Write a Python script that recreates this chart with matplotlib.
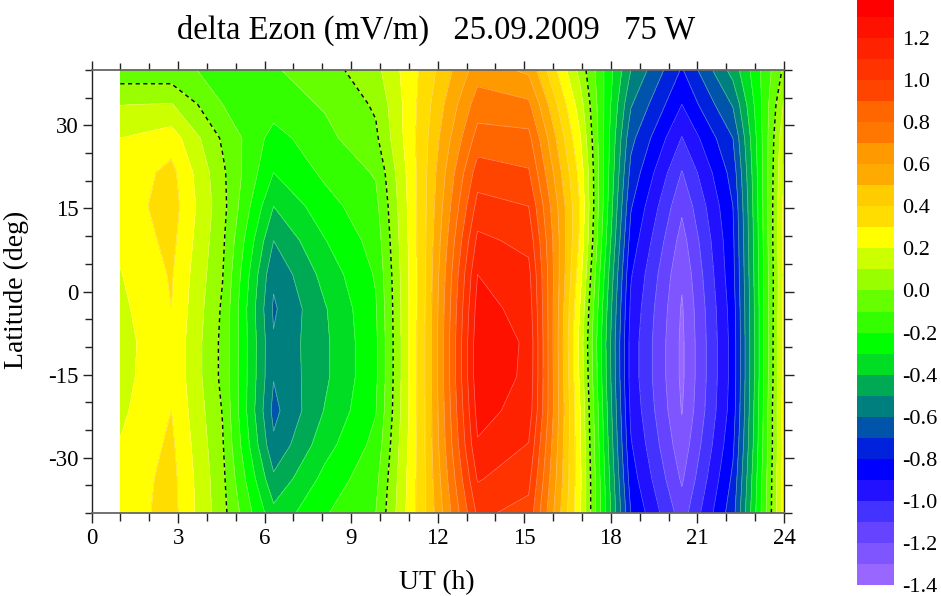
import numpy as np
import matplotlib
matplotlib.use("Agg")
import matplotlib.pyplot as plt
from matplotlib.colors import ListedColormap, BoundaryNorm
from matplotlib.cm import ScalarMappable
from matplotlib.ticker import MultipleLocator, FixedLocator

plt.rcParams['font.family'] = ['Liberation Serif', 'DejaVu Serif']
plt.rcParams['axes.unicode_minus'] = False

title = "delta Ezon (mV/m)   25.09.2009   75 W"
xlabel = "UT (h)"
ylabel = "Latitude (deg)"

ut = [1.0, 2.77, 4.54, 6.31, 8.08, 9.85, 11.62, 13.38, 15.15, 16.92, 18.69, 20.46, 22.23, 24.0]
lat = [40, 33.8, 27.7, 21.5, 15.4, 9.2, 3.1, -3.1, -9.2, -15.4, -21.5, -27.7, -33.8, -40]

ut01 = [-.065, .097, .20, .23, .24, .22, .195, .175, .16, .165, .18, .205, .23, .24]
ut03 = [-.07, .105, .25, .33, .35, .33, .31, .30, .285, .285, .30, .32, .335, .34]
ut05 = [-.13, -.10, -.015, .02, .035, .02, .005, -.015, -.025, -.025, -.005, .01, .025, .035]
ut06 = [-.11, -.15, -.24, -.30, -.40, -.50, -.58, -.615, -.59, -.595, -.63, -.58, -.48, -.37]
ut08 = [-.045, -.09, -.13, -.18, -.24, -.305, -.365, -.41, -.42, -.42, -.395, -.34, -.27, -.21]
ut10 = [.07, .015, -.02, -.09, -.13, -.16, -.19, -.21, -.22, -.22, -.205, -.17, -.13, -.10]
ut12 = [.345, .37, .39, .40, .405, .41, .415, .42, .425, .425, .42, .42, .415, .41]
ut13 = [.653, .75, .84, .95, 1.035, 1.125, 1.20, 1.24, 1.265, 1.265, 1.235, 1.19, 1.11, 1.02]
ut15 = [.58, .72, .83, .91, 1.0, 1.07, 1.13, 1.16, 1.185, 1.18, 1.16, 1.095, 1.03, .967]
ut17 = [.07, .15, .215, .27, .30, .286, .245, .20, .17, .185, .21, .22, .23, .22]
ut19 = [-.50, -.59, -.67, -.73, -.79, -.84, -.89, -.92, -.94, -.94, -.92, -.89, -.85, -.80]
ut20 = [-.81, -.90, -1.005, -1.105, -1.18, -1.24, -1.285, -1.31, -1.32, -1.32, -1.305, -1.265, -1.215, -1.15]
ut22 = [-.46, -.59, -.70, -.76, -.80, -.82, -.83, -.85, -.86, -.86, -.85, -.82, -.78, -.74]
ut24 = [.02, .11, .175, .207, .226, .23, .22, .226, .234, .234, .25, .24, .246, .243]

level_values = [-1.4, -1.3, -1.2, -1.1, -1.0, -0.9, -0.8, -0.7, -0.6, -0.5, -0.4, -0.3, -0.2, -0.1, 0.0,
                0.1, 0.2, 0.3, 0.4, 0.5, 0.6, 0.7, 0.8, 0.9, 1.0, 1.1, 1.2, 1.3, 1.4]
band_colors = ['#9966FF', '#7F55FF', '#6644FF', '#4433FF', '#2211FF',
               '#0000FF', '#0022DD', '#0055AA', '#007F7F', '#00AA55', '#00DD22',
               '#00FF00', '#33FF00', '#66FF00', '#99FF00', '#CCFF00',
               '#FFFF00', '#FFDD00', '#FFCC00', '#FFAA00', '#FF9900', '#FF7700',
               '#FF6600', '#FF4400', '#FF3300', '#FF2200', '#FF1100', '#FF0000']
cbar_ticks = [-1.4, -1.2, -1.0, -0.8, -0.6, -0.4, -0.2, 0.0, 0.2, 0.4, 0.6, 0.8, 1.0, 1.2]

z = np.column_stack([ut01, ut03, ut05, ut06, ut08, ut10, ut12, ut13, ut15, ut17, ut19, ut20, ut22, ut24])

W, H = 941, 596
fig = plt.figure(figsize=(W / 100, H / 100), dpi=100)
ax = fig.add_axes([91.5 / W, (H - 513) / H, 692.5 / W, 443 / H])

cmap = ListedColormap(band_colors)
norm = BoundaryNorm(level_values, cmap.N)
ax.contourf(ut, lat, z, levels=level_values, cmap=cmap, norm=norm)
ax.contour(ut, lat, z, levels=level_values, colors='white', linewidths=0.5, alpha=0.4, linestyles='solid')
ax.contour(ut, lat, z, levels=[0.0], colors='black', linewidths=1.0, linestyles=[(0, (3, 2.5))])

ax.set_xlim(0, 24)
ax.set_ylim(-40, 40)
ax.xaxis.set_major_locator(FixedLocator([0, 3, 6, 9, 12, 15, 18, 21, 24]))
ax.xaxis.set_minor_locator(MultipleLocator(1))
ax.yaxis.set_major_locator(FixedLocator([-30, -15, 0, 15, 30]))
ax.yaxis.set_minor_locator(FixedLocator([-40, -35, -25, -20, -10, -5, 5, 10, 20, 25, 35, 40]))

ax.tick_params(which='major', direction='out', length=9.5 * 0.72, width=1.0, top=True, right=True,
               labelsize=16.5, color='#222222', pad=4)
ax.tick_params(which='minor', direction='out', length=7.5 * 0.72, width=1.0, top=True, right=True,
               color='#222222')
ax.tick_params(axis='y', which='major', pad=2.5)
for s in ('top', 'bottom'):
    ax.spines[s].set_color('#666666')
    ax.spines[s].set_linewidth(1.3)
for s in ('left', 'right'):
    ax.spines[s].set_color('#222222')
    ax.spines[s].set_linewidth(1.0)

fig.text(436 / W, 1 - 30 / H, title, ha='center', va='center', fontsize=23.5)
fig.text(437 / W, 1 - 583 / H, xlabel, ha='center', va='center', fontsize=20)
fig.text(16 / W, 1 - 290 / H, ylabel, ha='center', va='center', rotation=90, fontsize=20)

cax = fig.add_axes([857 / W, (H - 585) / H, 37 / W, 589 / H])
cb = fig.colorbar(ScalarMappable(norm=norm, cmap=cmap), cax=cax, spacing='proportional',
                  ticks=cbar_ticks, drawedges=False)
cb.outline.set_visible(False)
cb.ax.minorticks_off()
cb.ax.set_yticklabels([f"{t:.1f}" for t in cbar_ticks])
cb.ax.tick_params(length=0, labelsize=16, pad=6)
for lab in cb.ax.get_yticklabels():
    lab.set_verticalalignment('center_baseline')

fig.savefig("out.png", dpi=100)
